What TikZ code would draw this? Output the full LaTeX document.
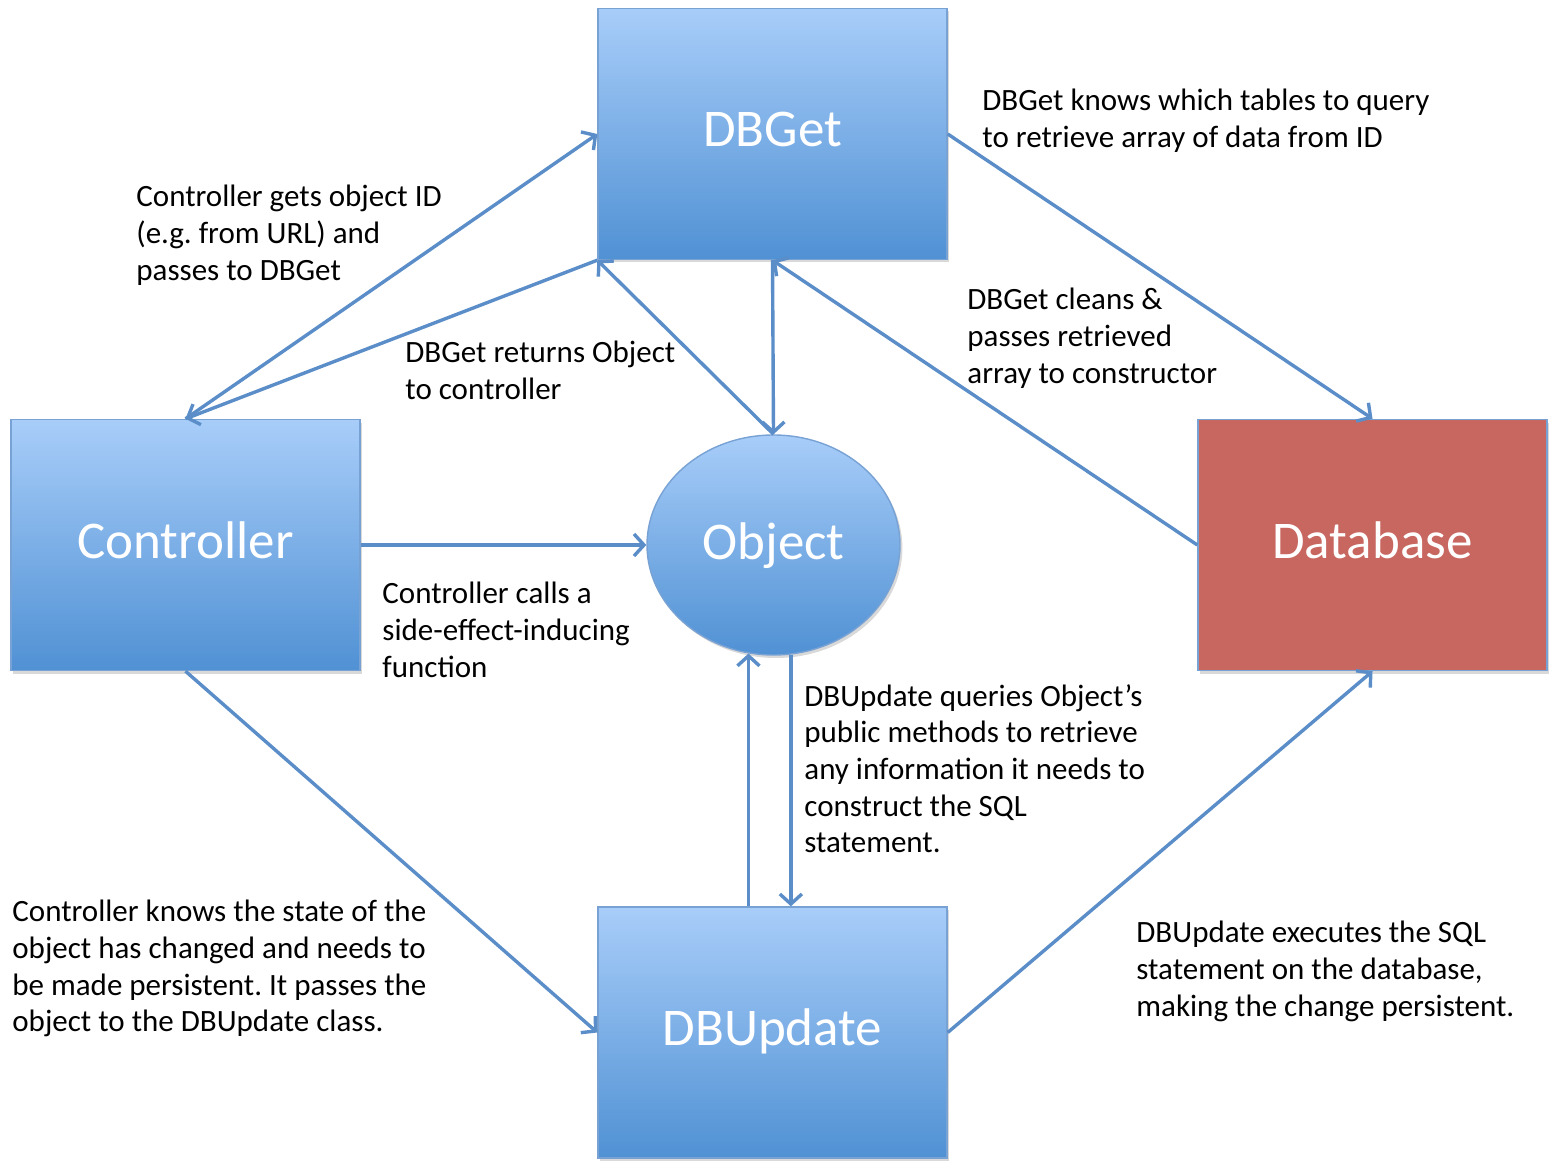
\documentclass[tikz,border=0pt]{standalone}
\usepackage{fontspec}
\setmainfont{Carlito}
\usetikzlibrary{arrows.meta,shadows,shapes.geometric,calc}
\definecolor{boxtop}{RGB}{168,205,249}
\definecolor{boxbot}{RGB}{80,145,212}
\definecolor{boxline}{RGB}{120,162,212}
\definecolor{dbred}{RGB}{200,102,96}
\definecolor{conn}{RGB}{91,142,200}
\frenchspacing
\begin{document}
\frenchspacing
\begin{tikzpicture}[x=0.5pt,y=-0.5pt,
  bluebox/.style={rectangle, draw=boxline, line width=0.7pt, top color=boxtop, bottom color=boxbot,
    minimum width=174.5pt, minimum height=125.5pt, inner sep=0pt, text=white,
    font=\fontsize{26.5}{30}\selectfont, text height=18.5pt, text depth=5.5pt,
    drop shadow={shadow xshift=1.2pt, shadow yshift=-1.5pt, opacity=0.3}},
  redbox/.style={bluebox, fill=dbred, top color=dbred, bottom color=dbred},
  objell/.style={ellipse, draw=boxline, line width=0.7pt, top color=boxtop, bottom color=boxbot,
    minimum width=126.5pt, minimum height=110pt, inner sep=0pt, text=white,
    font=\fontsize{26.5}{30}\selectfont, text height=18.5pt, text depth=4.5pt,
    drop shadow={shadow xshift=1.2pt, shadow yshift=-1.5pt, opacity=0.3}},
  lbl/.style={anchor=north west, inner sep=0pt, align=left, text=black,
    font=\fontsize{15.5}{18.3}\selectfont},
  conn/.style={draw=conn, line width=1.7pt, -{Straight Barb[length=5pt,width=11pt]}}
]
\useasboundingbox (0,0) rectangle (1562,1176);

% nodes
\node[bluebox] (dbget) at (772.5,134) {DBGet};
\node[bluebox] (ctrl) at (185.5,545) {Controller};
\node[redbox] (db) at (1372.5,545) {Database};
\node[bluebox] (dbupd) at (772.5,1032.5) {DBUpdate};
\node[objell] (obj) at (773.5,545) {Object};

% connectors
\draw[conn] (ctrl.north) -- (dbget.west);
\draw[conn] (dbget.south west) -- (ctrl.north);
\draw[conn] (obj.north) -- (dbget.south west);
\draw[conn] (dbget.south) -- (obj.north);
\draw[conn] (db.west) -- (dbget.south);
\draw[conn] (dbget.east) -- (db.north);
\draw[conn] (ctrl.east) -- (obj.west);
\draw[conn] (ctrl.south) -- (dbupd.west);
\coordinate (oL) at (obj.257);
\coordinate (oR) at (obj.279);
\draw[conn] (oL |- dbupd.north) -- (oL);
\draw[conn] (oR) -- (oR |- dbupd.north);
\draw[conn] (dbupd.east) -- (db.south);

% labels
\node[lbl] (t1) at (982,89) {DBGet knows which tables to query\\to retrieve array of data from ID};
\node[lbl] (t2) at (136,185) {Controller gets object ID\\(e.g. from URL) and\\passes to DBGet};
\node[lbl] (t3) at (405,341) {DBGet returns Object\\to controller};
\node[lbl] (t4) at (967,288) {DBGet cleans \&\\passes retrieved\\array to constructor};
\node[lbl] (t5) at (382,582) {Controller calls a\\side-effect-inducing\\function};
\node[lbl] (t6) at (804,684) {DBUpdate queries Object’s\\public methods to retrieve\\any information it needs to\\construct the SQL\\statement.};
\node[lbl] (t7) at (12,900) {Controller knows the state of the\\object has changed and needs to\\be made persistent. It passes the\\object to the DBUpdate class.};
\node[lbl] (t8) at (1136,921) {DBUpdate executes the SQL\\statement on the database,\\making the change persistent.};
\end{tikzpicture}
\end{document}
